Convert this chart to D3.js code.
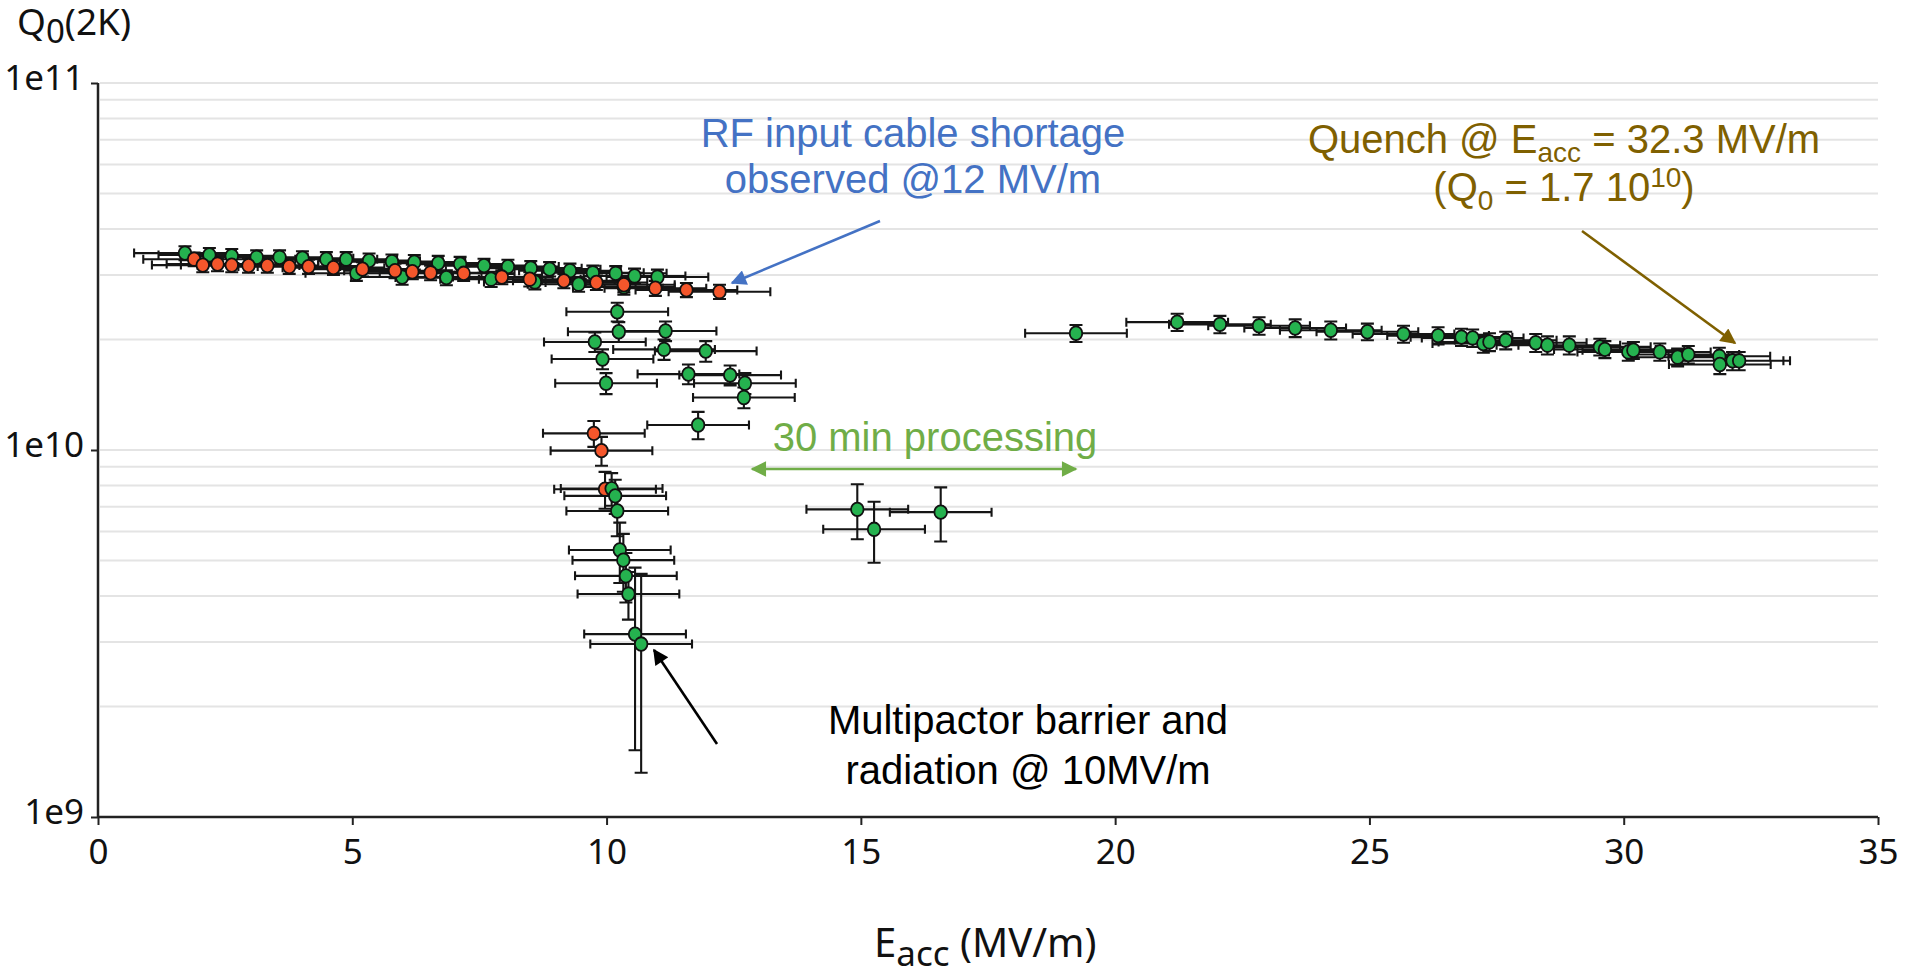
<!DOCTYPE html>
<html>

<head>
    <meta charset="utf-8">
    <title>Q0 vs Eacc</title>
    <script src="https://d3js.org/d3.v7.min.js"></script>
    <style>
        body { margin: 0; background: #fff; }
        .tick text { font-family: "Noto Sans", sans-serif; font-size: 35px; fill: #111; }
        .grid line { stroke: #e4e4e4; stroke-width: 2px; }
        .ann { font-family: "Liberation Sans", Arial, sans-serif; font-size: 40px; }
    </style>
</head>

<body>
    <svg width="1905" height="971"></svg>
    <script>
        // [Eacc (MV/m), Q0, dQ0]
        const run1Green = [
            [1.71, 3.44e10, 1.5e9], [2.19, 3.40e10, 1.5e9], [2.63, 3.38e10, 1.5e9], [3.12, 3.35e10, 1.5e9],
            [3.57, 3.35e10, 1.5e9], [4.02, 3.33e10, 1.5e9], [4.49, 3.31e10, 1.5e9], [4.88, 3.31e10, 1.5e9],
            [5.08, 3.03e10, 1.4e9], [5.33, 3.28e10, 1.5e9], [5.78, 3.26e10, 1.5e9], [5.98, 2.96e10, 1.4e9],
            [6.22, 3.25e10, 1.5e9], [6.69, 3.23e10, 1.5e9], [6.85, 2.95e10, 1.4e9], [7.12, 3.21e10, 1.5e9],
            [7.59, 3.18e10, 1.4e9], [7.73, 2.92e10, 1.4e9], [8.06, 3.16e10, 1.4e9], [8.51, 3.13e10, 1.4e9],
            [8.59, 2.87e10, 1.3e9], [8.88, 3.11e10, 1.4e9], [9.28, 3.08e10, 1.4e9], [9.45, 2.83e10, 1.3e9],
            [9.73, 3.04e10, 1.4e9], [10.18, 3.03e10, 1.4e9], [10.34, 2.78e10, 1.3e9], [10.55, 2.98e10, 1.4e9],
            [11.00, 2.96e10, 1.4e9]
        ]
        const run1Red = [
            [1.89, 3.31e10, 1.4e9], [2.06, 3.19e10, 1.4e9], [2.35, 3.21e10, 1.4e9], [2.63, 3.19e10, 1.4e9],
            [2.96, 3.18e10, 1.4e9], [3.33, 3.18e10, 1.4e9], [3.76, 3.16e10, 1.4e9], [4.14, 3.16e10, 1.4e9],
            [4.63, 3.14e10, 1.4e9], [5.20, 3.11e10, 1.4e9], [5.84, 3.08e10, 1.4e9], [6.18, 3.06e10, 1.4e9],
            [6.54, 3.04e10, 1.4e9], [7.19, 3.03e10, 1.4e9], [7.94, 2.96e10, 1.3e9], [8.49, 2.92e10, 1.3e9],
            [9.16, 2.89e10, 1.3e9], [9.80, 2.86e10, 1.3e9], [10.34, 2.82e10, 1.3e9], [10.96, 2.76e10, 1.3e9],
            [11.57, 2.73e10, 1.2e9], [12.22, 2.70e10, 1.2e9]
        ]
        const dropGreen = [
            [10.21, 2.38e10, 1.4e9], [10.24, 2.10e10, 1.3e9], [11.16, 2.11e10, 1.3e9], [9.77, 1.97e10, 1.2e9],
            [11.13, 1.88e10, 1.2e9], [11.95, 1.86e10, 1.2e9], [9.92, 1.77e10, 1.1e9], [11.61, 1.61e10, 1.0e9],
            [12.43, 1.60e10, 1.0e9], [12.72, 1.52e10, 1.0e9], [9.99, 1.52e10, 1.0e9], [12.70, 1.39e10, 0.9e9],
            [11.80, 1.17e10, 1.0e9]
        ]
        const dropRed = [
            [9.75, 1.11e10, 0.9e9], [9.90, 9.96e9, 0.9e9], [9.97, 7.82e9, 0.9e9]
        ]
        const multipactorGreen = [
            [10.10, 7.85e9, 0.8e9], [10.17, 7.50e9, 0.8e9], [10.21, 6.82e9, 1.0e9], [10.26, 5.34e9, 1.0e9],
            [10.33, 5.01e9, 0.9e9], [10.38, 4.54e9, 0.7e9], [10.43, 4.05e9, 0.6e9], [10.56, 3.15e9, 1.63e9],
            [10.68, 2.96e9, 1.64e9]
        ]
        const proc30Green = [
            [14.93, 6.89e9, 1.18e9], [15.26, 6.08e9, 1.15e9], [16.57, 6.77e9, 1.14e9]
        ]
        const run2Green = [
            [19.23, 2.08e10, 1.1e9], [21.22, 2.23e10, 1.2e9], [22.06, 2.20e10, 1.2e9], [22.83, 2.18e10, 1.2e9],
            [23.54, 2.15e10, 1.2e9], [24.24, 2.12e10, 1.2e9], [24.96, 2.10e10, 1.1e9], [25.67, 2.07e10, 1.1e9],
            [26.35, 2.05e10, 1.1e9], [26.81, 2.03e10, 1.1e9], [27.03, 2.02e10, 1.1e9], [27.24, 1.95e10, 1.1e9],
            [27.36, 1.97e10, 1.1e9], [27.68, 1.99e10, 1.1e9], [28.27, 1.96e10, 1.1e9], [28.50, 1.93e10, 1.1e9],
            [28.93, 1.93e10, 1.1e9], [29.53, 1.91e10, 1.0e9], [29.63, 1.88e10, 1.0e9], [30.09, 1.85e10, 1.0e9],
            [30.19, 1.87e10, 1.0e9], [30.71, 1.85e10, 1.0e9], [31.06, 1.79e10, 1.0e9], [31.27, 1.82e10, 1.0e9],
            [31.88, 1.80e10, 1.0e9], [31.89, 1.71e10, 1.0e9], [32.14, 1.75e10, 1.0e9], [32.27, 1.75e10, 1.0e9]
        ]
        const xErr = 1.0  // MV/m, same on every point
        const xTicks = [0, 5, 10, 15, 20, 25, 30, 35]
        const yTicks = [1e9, 1e10, 1e11]
        const yTickLabels = ["1e9", "1e10", "1e11"]

        const GREEN = "#25b24f"
        const RED = "#f4562b"

        var svg = d3.select("svg")
        const margin = { top: 83, bottom: 154, left: 98, right: 27 }
        const width = +svg.attr("width")
        const height = +svg.attr("height")
        const innerWidth = width - margin.left - margin.right
        const innerHeight = height - margin.top - margin.bottom

        const x = d3.scaleLinear().domain([0, 35]).range([0, innerWidth])
        const y = d3.scaleLog().domain([1e9, 1e11]).range([innerHeight, 0])

        const g = svg.append("g")
            .attr("transform", `translate(${margin.left},${margin.top})`)

        // minor log gridlines
        const gridVals = []
        for (let dec = 1e9; dec < 1e11; dec *= 10)
            for (let k = 1; k < 10; k++) gridVals.push(dec * k)
        gridVals.push(1e11)
        g.append("g").attr("class", "grid")
            .selectAll("line").data(gridVals.filter(v => v > 1e9)).join("line")
            .attr("x1", 2).attr("x2", innerWidth)
            .attr("y1", d => y(d)).attr("y2", d => y(d))

        // axes
        const xAxis = d3.axisBottom(x).tickValues(xTicks).tickSize(8).tickPadding(6).tickFormat(d3.format("d"))
        const yAxis = d3.axisLeft(y).tickValues(yTicks).tickSize(7).tickPadding(7)
            .tickFormat((d, i) => yTickLabels[i])
        const gx = g.append("g").attr("transform", `translate(0,${innerHeight})`).call(xAxis)
        const gy = g.append("g").call(yAxis)
        gx.select(".domain").attr("d", `M0,0H${innerWidth}`)
        gy.select(".domain").attr("d", `M0,${innerHeight}V0`)
        for (const a of [gx, gy]) {
            a.select(".domain").attr("stroke", "#222").attr("stroke-width", 2.5)
            a.selectAll(".tick line").attr("stroke", "#222").attr("stroke-width", 2)
        }
        gx.selectAll(".tick text").attr("dy", "0.95em")
        gy.selectAll(".tick text").attr("dy", "0.18em")

        // error bars + markers
        const series = [
            { data: run1Green, color: GREEN }, { data: run1Red, color: RED },
            { data: dropGreen, color: GREEN }, { data: dropRed, color: RED },
            { data: multipactorGreen, color: GREEN }, { data: proc30Green, color: GREEN },
            { data: run2Green, color: GREEN }
        ]
        const eb = g.append("g").attr("stroke", "#151515").attr("stroke-width", 2.1).attr("fill", "none")
        series.forEach(s => {
            const p = d3.path()
            s.data.forEach(([e, q, dq]) => {
                const cx = x(e), cy = y(q)
                const xl = x(e - xErr), xr = x(e + xErr)
                p.moveTo(xl, cy); p.lineTo(xr, cy)
                p.moveTo(xl, cy - 4.5); p.lineTo(xl, cy + 4.5)
                p.moveTo(xr, cy - 4.5); p.lineTo(xr, cy + 4.5)
                const yt = y(q + dq), yb = y(q - dq)
                p.moveTo(cx, yt); p.lineTo(cx, yb)
                p.moveTo(cx - 6.5, yt); p.lineTo(cx + 6.5, yt)
                p.moveTo(cx - 6.5, yb); p.lineTo(cx + 6.5, yb)
            })
            eb.append("path").attr("d", p.toString())
        })
        series.forEach(s => {
            g.append("g").selectAll("ellipse").data(s.data).join("ellipse")
                .attr("cx", d => x(d[0])).attr("cy", d => y(d[1])).attr("rx", 6.3).attr("ry", 6.8)
                .attr("fill", s.color).attr("stroke", "#111").attr("stroke-width", 1.8)
        })

        // axis titles
        svg.append("text").attr("x", 17).attr("y", 35)
            .attr("font-family", "Noto Sans, sans-serif").attr("font-size", 37).attr("fill", "#111")
            .call(t => {
                t.append("tspan").text("Q")
                t.append("tspan").attr("dy", 8).attr("font-size", 33).text("0")
                t.append("tspan").attr("dy", -8).text("(2K)")
            })
        svg.append("text").attr("x", 874).attr("y", 957)
            .attr("font-family", "Noto Sans, sans-serif").attr("font-size", 40).attr("fill", "#111")
            .call(t => {
                t.append("tspan").text("E")
                t.append("tspan").attr("dy", 9).attr("font-size", 35).text("acc")
                t.append("tspan").attr("dy", -9).text(" (MV/m)")
            })

        // annotations
        const defs = svg.append("defs")
        const marker = (id, color) => defs.append("marker").attr("id", id)
            .attr("viewBox", "0 0 10 10").attr("refX", 9).attr("refY", 5)
            .attr("markerWidth", 7).attr("markerHeight", 6).attr("markerUnits", "strokeWidth")
            .attr("orient", "auto-start-reverse")
            .append("path").attr("d", "M0,0L10,5L0,10Z").attr("fill", color)
        marker("aBlue", "#4472c4"); marker("aGold", "#7f6000"); marker("aBlack", "#000"); marker("aGreen", "#70ad47")

        const arrow = (x1, y1, x2, y2, color, id, both) => svg.append("line")
            .attr("x1", x1).attr("y1", y1).attr("x2", x2).attr("y2", y2)
            .attr("stroke", color).attr("stroke-width", 2.6)
            .attr("marker-end", `url(#${id})`)
            .attr("marker-start", both ? `url(#${id})` : null)

        const block = (cx, y0, dy, color, size, lines) => {
            lines.forEach((ln, i) => {
                const t = svg.append("text").attr("class", "ann").attr("x", cx).attr("y", y0 + i * dy)
                    .attr("text-anchor", "middle").attr("fill", color).attr("font-size", size)
                ln.forEach(([txt, shift, sz]) => {
                    t.append("tspan").attr("dy", shift || 0).attr("font-size", sz || null).text(txt)
                })
            })
        }

        block(913, 147, 46, "#4472c4", 40, [[["RF input cable shortage"]], [["observed @12 MV/m"]]])
        arrow(880, 221, 732, 283, "#4472c4", "aBlue")

        block(1564, 153, 48, "#7f6000", 40, [
            [["Quench @ E"], ["acc", 9, 28], [" = 32.3 MV/m", -9]],
            [["(Q"], ["0", 9, 28], [" = 1.7 10", -9], ["10", -14, 28], [")", 14]]
        ])
        arrow(1582, 231, 1735, 343, "#7f6000", "aGold")

        block(935, 451, 0, "#70ad47", 42, [[["30 min processing"]]])
        arrow(752, 469, 1076, 469, "#70ad47", "aGreen", true)

        block(1028, 734, 50, "#000", 42, [[["Multipactor barrier and"]], [["radiation @ 10MV/m"]]])
        arrow(717, 744, 654, 650, "#000", "aBlack")
    </script>
</body>

</html>
